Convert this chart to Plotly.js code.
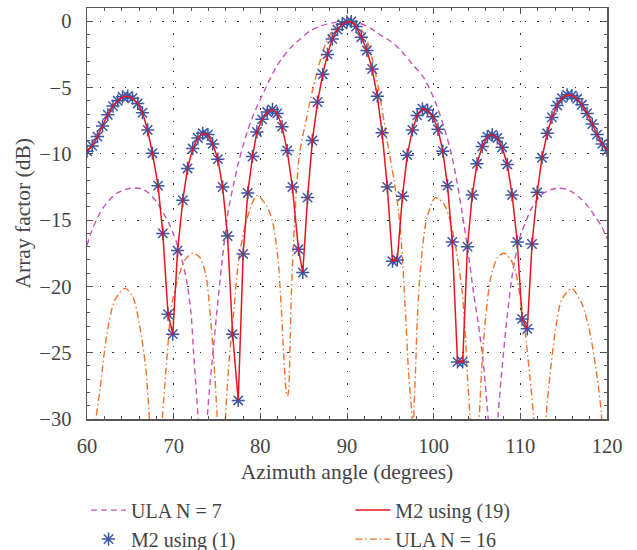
<!DOCTYPE html>
<html><head><meta charset="utf-8">
<script src="https://cdn.plot.ly/plotly-3.0.1.min.js"></script>
<style>html,body{margin:0;padding:0;background:#fff}#chart{width:637px;height:550px}</style>
</head><body><div id="chart"></div>
<script>
// M2 pattern samples (degrees, dB)
const m2Angle = [60.0,60.6,61.2,61.8,62.4,63.0,63.55,64.1,64.7,65.25,65.85,66.4,67.0,67.55,68.2,68.75,69.35,69.9,70.45,71.05,71.6,72.2,72.8,73.35,73.95,74.5,75.1,75.65,76.22,76.8,77.45,78.02,78.55,79.1,79.6,80.2,80.8,81.4,81.95,82.5,83.1,83.7,84.4,84.9,85.45,86.0,86.6,87.2,87.75,88.3,88.9,89.45,90.0,90.5,91.05,91.65,92.3,92.9,93.5,94.05,94.65,95.25,95.8,96.4,96.95,97.55,98.1,98.7,99.3,99.9,100.5,101.05,101.6,102.15,102.75,103.35,103.9,104.45,105.0,105.6,106.2,106.75,107.35,107.9,108.5,109.05,109.65,110.2,110.8,111.35,111.95,112.5,113.1,113.65,114.25,114.8,115.4,115.95,116.55,117.1,117.7,118.3,118.85,119.45,120.0];
const m2Eq1Db = [-9.8,-9.4,-8.7,-7.9,-7.05,-6.4,-6.0,-5.7,-5.65,-5.8,-6.2,-6.9,-8.2,-9.95,-12.4,-16.0,-22.1,-23.6,-17.3,-13.5,-11.1,-9.6,-8.8,-8.45,-8.55,-9.25,-10.4,-12.5,-16.2,-23.6,-28.6,-17.55,-12.95,-10.2,-8.35,-7.4,-6.85,-6.65,-6.95,-7.95,-9.75,-12.5,-17.2,-18.95,-13.3,-9.0,-6.1,-4.0,-2.5,-1.33,-0.63,-0.23,-0.05,-0.02,-0.4,-1.2,-2.2,-3.6,-5.65,-8.4,-12.5,-18.1,-18.0,-13.2,-10.1,-8.2,-7.1,-6.6,-6.7,-7.2,-8.15,-9.8,-12.4,-16.65,-25.7,-25.7,-17.0,-13.1,-10.75,-9.45,-8.7,-8.55,-8.8,-9.5,-10.8,-13.1,-16.65,-22.45,-23.2,-16.8,-12.9,-10.3,-8.45,-7.25,-6.35,-5.8,-5.55,-5.6,-5.85,-6.3,-6.95,-7.75,-8.55,-9.25,-9.75];
const m2Eq19Db = [-9.8,-9.4,-8.7,-7.9,-7.05,-6.4,-6.0,-5.7,-5.65,-5.8,-6.2,-6.9,-8.2,-9.95,-12.4,-16.0,-22.1,-23.6,-17.3,-13.5,-11.1,-9.6,-8.8,-8.45,-8.55,-9.25,-10.4,-12.5,-16.2,-23.6,-28.6,-17.55,-12.95,-10.2,-8.35,-7.4,-6.85,-6.65,-6.95,-7.95,-9.75,-12.5,-17.2,-18.95,-13.3,-9.0,-6.1,-4.0,-2.5,-1.33,-0.63,-0.23,-0.05,-0.02,-0.4,-1.2,-2.2,-3.6,-5.65,-8.4,-12.5,-18.1,-18.0,-13.2,-10.1,-8.2,-7.1,-6.6,-6.7,-7.2,-8.15,-9.8,-12.4,-16.65,-25.7,-25.7,-17.0,-13.1,-10.75,-9.45,-8.7,-8.55,-8.8,-9.5,-10.8,-13.1,-16.65,-22.45,-23.2,-16.8,-12.9,-10.3,-8.45,-7.25,-6.35,-5.8,-5.55,-5.6,-5.85,-6.3,-6.95,-7.75,-8.55,-9.25,-9.75];

// ULA N = 7
const ula7Angle = [60,60.5,61,61.5,62,62.5,63,63.5,64,64.5,65,65.5,66,66.5,67,67.5,68,68.5,69,69.5,70,70.5,71,71.5,72,72.3,72.6,72.9,73.4,73.8,74.1,74.45,75.0,75.6,76.3,76.95,77.5,78,78.5,79,79.5,80,80.5,81,81.8,82.5,83.5,84.5,85.7,87,88.5,90,91.5,93,93.5,95,96.2,97.5,98.9,100.2,101.2,102.0,102.6,103.3,104.0,104.6,105.1,105.7,106.2,106.45,106.85,107.25,107.45,107.8,108.35,109.1,109.9,110.7,111.3,112.4,113.5,114.4,115.2,115.9,117,117.85,118.6,119.4,120];
const ula7Db = [-16.9,-15.9,-15.1,-14.45,-13.95,-13.55,-13.2,-12.95,-12.8,-12.68,-12.6,-12.58,-12.6,-12.7,-12.9,-13.2,-13.6,-14.1,-14.7,-15.3,-16.1,-17.0,-18.1,-19.6,-22.0,-25.0,-27.8,-30.8,-40,-30.8,-28,-25.6,-21.8,-18.0,-14.3,-12.2,-10.6,-9.4,-8.3,-7.4,-6.6,-5.9,-5.2,-4.5,-3.5,-2.8,-2.0,-1.4,-0.75,-0.35,-0.1,0,-0.15,-0.65,-0.9,-1.5,-2.2,-3.2,-4.3,-6.1,-8.0,-9.9,-11.8,-14.5,-17.5,-20.5,-22.6,-25.6,-29.3,-31.5,-40,-31.5,-29.6,-26.8,-23.1,-19.0,-16.4,-15.0,-14.1,-13.1,-12.7,-12.6,-12.65,-12.85,-13.4,-14.0,-14.7,-15.5,-16.4];

// ULA N = 16
const ula16Angle = [60.8,61.0,61.5,62.25,63.2,64.4,65.3,66.1,66.8,67.2,67.5,68.0,68.4,68.7,69.2,69.8,70.55,71.3,72.2,73.0,73.7,74.25,74.6,75.0,75.2,75.5,75.8,76.0,76.4,76.95,77.5,78.5,79.6,80.7,81.4,82.0,82.4,82.7,83.0,83.15,83.3,83.45,83.6,83.95,84.5,85.3,86.06,86.85,87.6,88.6,89.7,91.1,92.1,92.9,93.65,94.6,95.4,95.95,96.3,96.7,97.1,97.5,97.6,97.7,97.9,98.1,98.45,99.2,100.2,101.2,101.8,102.4,102.9,103.3,103.6,103.9,104.2,104.5,104.7,104.95,105.25,105.6,106.0,106.6,107.4,108.15,108.9,109.5,109.9,110.3,110.7,111.1,111.5,111.8,112.1,112.6,113.0,113.4,114.0,114.75,115.9,117.1,118.05,118.85,119.35,119.6];
const ula16Db = [-33,-30.2,-27.8,-23.8,-21.05,-20.15,-20.8,-23.05,-26.3,-30,-34,-45,-34,-30,-25.6,-21.3,-19.3,-18.0,-17.5,-17.8,-19.1,-22.4,-25.3,-29.6,-33,-45,-33,-29.6,-25.6,-21.8,-18.0,-14.8,-13.15,-13.9,-15.1,-17.65,-21.4,-25.2,-28.0,-28.3,-27.5,-23.9,-20.2,-15.1,-10.1,-7.4,-5.1,-3.1,-1.6,-0.45,0,-0.25,-1.1,-2.8,-5.1,-8.9,-11.9,-14.4,-16.9,-21.4,-26.45,-29.8,-32,-29.8,-26.45,-22.7,-18.9,-14.9,-13.3,-13.8,-14.8,-16.5,-18.5,-20.5,-23.1,-26.8,-30,-34,-45,-34,-30,-25.6,-22.3,-19.3,-17.8,-17.5,-18.0,-19.0,-20.5,-22.2,-24.3,-26.8,-29.6,-34,-45,-34,-29.6,-26.8,-23.55,-21.05,-20.15,-21.3,-23.55,-26.8,-29.6,-33];

const xTicks = [60,70,80,90,100,110,120];
const yTicks = [-30,-25,-20,-15,-10,-5,0];

const FONT = 'Liberation Serif, Times New Roman, serif';
const TXT = '#444444';
const AX = '#555555';

const traces = [
  {x: ula7Angle, y: ula7Db, name: 'ULA N = 7', mode: 'lines', legend: 'legend',
   line: {color: '#c455b8', width: 1.4, dash: '6px,4px', shape: 'spline', smoothing: 0.8}},
  {x: ula16Angle, y: ula16Db, name: 'ULA N = 16', mode: 'lines', legend: 'legend2', legendrank: 2,
   line: {color: '#f2722a', width: 1.4, dash: '7px,3px,1.5px,3px', shape: 'spline', smoothing: 0.8}},
  {x: m2Angle, y: m2Eq1Db, name: 'M2 using (1)', mode: 'markers', legend: 'legend',
   marker: {symbol: 'asterisk-open', size: 11, color: '#3a56a6', line: {color: '#3a56a6', width: 1.5}}},
  {x: m2Angle, y: m2Eq19Db, name: 'M2 using (19)', mode: 'lines', legend: 'legend2', legendrank: 1,
   line: {color: '#e8141e', width: 1.5}}
];

const legendCommon = {
  orientation: 'v', xref: 'container', yref: 'container',
  y: 0.108, xanchor: 'left', yanchor: 'top', itemwidth: 35, tracegroupgap: 0,
  traceorder: 'normal',
  font: {family: FONT, size: 20, color: TXT}, bgcolor: 'rgba(0,0,0,0)'
};

const layout = {
  width: 637, height: 550,
  margin: {l: 87, r: 30, t: 8, b: 131, autoexpand: false},
  paper_bgcolor: '#fff', plot_bgcolor: '#fff',
  font: {family: FONT, size: 20, color: TXT},
  showlegend: true,
  xaxis: {
    range: [60, 120], tickmode: 'array', tickvals: xTicks, ticktext: xTicks.map(String),
    ticks: 'inside', ticklen: 6, tickwidth: 1, tickcolor: AX, tickangle: 0,
    showline: true, linecolor: AX, linewidth: 1.5, mirror: 'allticks',
    showgrid: true, gridcolor: '#333', gridwidth: 1, griddash: '1.5px,11px',
    zeroline: false,
    minor: {dtick: 2, ticks: 'inside', ticklen: 3, tickcolor: AX, showgrid: false},
    tickfont: {family: FONT, size: 20.5, color: TXT},
    ticklabelstandoff: 8,
    title: {text: 'Azimuth angle (degrees)', font: {family: FONT, size: 21.5, color: TXT}, standoff: 8}
  },
  yaxis: {
    range: [-30, 1], tickmode: 'array', tickvals: yTicks, ticktext: yTicks.map(v => v === 0 ? '0' : '\u2212' + Math.abs(v)),
    ticks: 'inside', ticklen: 6, tickwidth: 1, tickcolor: AX,
    showline: true, linecolor: AX, linewidth: 1.5, mirror: 'allticks',
    showgrid: true, gridcolor: '#333', gridwidth: 1, griddash: '1.5px,11px',
    zeroline: false,
    minor: {dtick: 1, ticks: 'inside', ticklen: 3, tickcolor: AX, showgrid: false},
    tickfont: {family: FONT, size: 20.5, color: TXT},
    ticklabelstandoff: 10
  },
  annotations: [{
    text: 'Array factor (dB)', textangle: -90, xref: 'paper', yref: 'paper',
    x: -0.125, y: 0.5, xanchor: 'center', yanchor: 'middle', showarrow: false,
    font: {family: FONT, size: 21.5, color: TXT}
  }],
  legend: Object.assign({}, legendCommon, {x: 0.135}),
  legend2: Object.assign({}, legendCommon, {x: 0.55})
};

Plotly.newPlot('chart', traces, layout, {displayModeBar: false, staticPlot: true});
</script>
</body></html>
